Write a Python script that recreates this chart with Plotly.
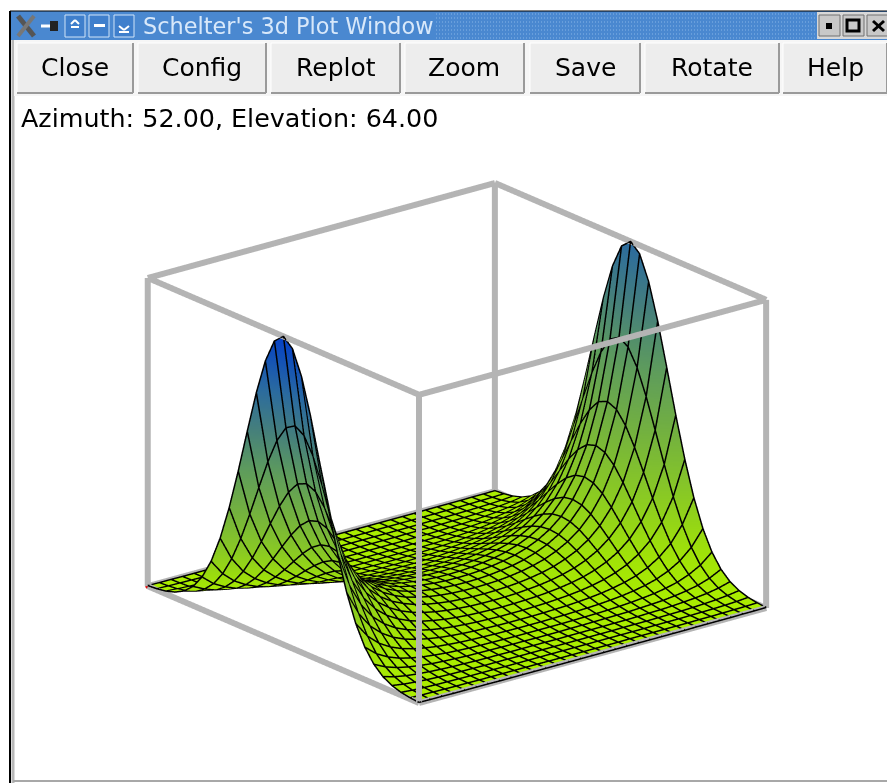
import numpy as np
import plotly.graph_objects as go

W, H = 887, 783

# Surface heights: one quadrant (u = 0..3 rows, v = 0..2 columns)
u_half = [0.0, 0.2, 0.4, 0.6, 0.8, 1.0, 1.2, 1.4, 1.6, 1.8, 2.0, 2.2, 2.4, 2.6, 2.8, 3.0]
v_half = [0.0, 0.1333, 0.2667, 0.4, 0.5333, 0.6667, 0.8, 0.9333, 1.0667, 1.2, 1.3333, 1.4667, 1.6, 1.7333, 1.8667, 2.0]
z_quadrant = [
    [1.00, 1.01, 1.05, 1.12, 1.22, 1.36, 1.56, 1.83, 2.20, 2.71, 3.43, 4.44, 5.90, 8.02, 11.19, 16.00],
    [0.97, 0.98, 1.02, 1.09, 1.18, 1.32, 1.52, 1.78, 2.14, 2.64, 3.34, 4.32, 5.74, 7.81, 10.89, 15.56],
    [0.90, 0.91, 0.94, 1.00, 1.09, 1.22, 1.39, 1.64, 1.97, 2.43, 3.07, 3.98, 5.28, 7.18, 10.02, 14.32],
    [0.78, 0.79, 0.82, 0.87, 0.95, 1.06, 1.21, 1.43, 1.71, 2.11, 2.67, 3.46, 4.59, 6.25, 8.72, 12.47],
    [0.64, 0.65, 0.67, 0.72, 0.78, 0.87, 1.00, 1.17, 1.41, 1.74, 2.20, 2.85, 3.78, 5.15, 7.18, 10.27],
    [0.50, 0.51, 0.53, 0.56, 0.61, 0.68, 0.78, 0.91, 1.10, 1.36, 1.71, 2.22, 2.95, 4.01, 5.60, 8.00],
    [0.37, 0.37, 0.39, 0.41, 0.45, 0.50, 0.57, 0.67, 0.81, 1.00, 1.26, 1.64, 2.17, 2.96, 4.13, 5.90],
    [0.26, 0.26, 0.27, 0.29, 0.31, 0.35, 0.40, 0.47, 0.57, 0.70, 0.88, 1.14, 1.52, 2.06, 2.88, 4.11],
    [0.17, 0.17, 0.18, 0.19, 0.21, 0.23, 0.26, 0.31, 0.37, 0.46, 0.58, 0.75, 1.00, 1.36, 1.90, 2.71],
    [0.11, 0.11, 0.11, 0.12, 0.13, 0.14, 0.16, 0.19, 0.23, 0.29, 0.36, 0.47, 0.62, 0.85, 1.18, 1.69],
    [0.06, 0.06, 0.07, 0.07, 0.08, 0.09, 0.10, 0.11, 0.14, 0.17, 0.21, 0.28, 0.37, 0.50, 0.70, 1.00],
    [0.03, 0.04, 0.04, 0.04, 0.04, 0.05, 0.05, 0.06, 0.08, 0.09, 0.12, 0.16, 0.21, 0.28, 0.39, 0.56],
    [0.02, 0.02, 0.02, 0.02, 0.02, 0.03, 0.03, 0.03, 0.04, 0.05, 0.06, 0.08, 0.11, 0.15, 0.21, 0.30],
    [0.01, 0.01, 0.01, 0.01, 0.01, 0.01, 0.01, 0.02, 0.02, 0.02, 0.03, 0.04, 0.05, 0.07, 0.10, 0.15],
    [0.00, 0.00, 0.00, 0.00, 0.01, 0.01, 0.01, 0.01, 0.01, 0.01, 0.02, 0.02, 0.03, 0.04, 0.05, 0.07],
    [0.00, 0.00, 0.00, 0.00, 0.00, 0.00, 0.00, 0.00, 0.00, 0.01, 0.01, 0.01, 0.01, 0.02, 0.02, 0.03],
]
# Right-hand peak is drawn teal, the left one full blue
tint_left, tint_right = 1.0, 0.80

button_labels = ["Close", "Config", "Replot", "Zoom", "Save", "Rotate", "Help"]
button_edges = [(17, 133), (138, 266), (271, 400), (405, 524), (530, 640), (645, 779), (783, 887)]
title_text = "Schelter's 3d Plot Window"
status_text = "Azimuth: 52.00, Elevation: 64.00"

colorscale = [
    [0.00, "#aaee00"], [0.08, "#a0e208"], [0.20, "#8bcb22"], [0.35, "#74b23e"],
    [0.50, "#5e9c5c"], [0.65, "#457f7c"], [0.80, "#2a6aa0"], [0.92, "#1250b8"], [1.00, "#0540c8"],
]
GRID_BLACK = "#000000"
BOX_GRAY = "#b4b4b4"

# Assemble the full grid
Zq = np.array(z_quadrant)
Zu = np.concatenate([Zq[:0:-1], Zq], axis=0)
Z = np.concatenate([Zu[:, :0:-1], Zu], axis=1)          # rows u, cols y (y = -2 left peak, +2 right peak)
u = np.array([-a for a in u_half[:0:-1]] + u_half)
y = np.array([-a for a in v_half[:0:-1]] + v_half)
tint = tint_left + (tint_right - tint_left) * (y + 2) / 4
C = Z / 16 * tint

fig = go.Figure()
fig.add_trace(go.Surface(
    x=u, y=y, z=Z.T, surfacecolor=C.T, cmin=0, cmax=1, colorscale=colorscale, showscale=False,
    lighting=dict(ambient=1, diffuse=0, specular=0, roughness=1, fresnel=0),
    hoverinfo="skip",
))

# Wire box, one trace per edge
lo = (-3, -2, 0)
hi = (3, 2, 16)
corners = [(a, b, c) for a in (lo[0], hi[0]) for b in (lo[1], hi[1]) for c in (lo[2], hi[2])]
for i, p in enumerate(corners):
    for q in corners[i + 1:]:
        if sum(p[k] != q[k] for k in range(3)) == 1:
            fig.add_trace(go.Scatter3d(x=[p[0], q[0]], y=[p[1], q[1]], z=[p[2], q[2]], mode="lines",
                                       line=dict(color=BOX_GRAY, width=12), hoverinfo="skip"))

# Mesh lines follow the same grid, nudged along the view direction so they sit on the surface
view = np.array([0.734, -0.585, 0.343])
nudge = 0.006 * view * np.array([4.69, 3.06, 16.6])
mx, my, mz = [], [], []
for i in range(len(u)):
    mx += [u[i] + nudge[0]] * len(y) + [None]
    my += list(y + nudge[1]) + [None]
    mz += list(Z[i] + nudge[2]) + [None]
for j in range(len(y)):
    mx += list(u + nudge[0]) + [None]
    my += [y[j] + nudge[1]] * len(u) + [None]
    mz += list(Z[:, j] + nudge[2]) + [None]
fig.add_trace(go.Scatter3d(x=mx, y=my, z=mz, mode="lines", line=dict(color=GRID_BLACK, width=3), hoverinfo="skip"))
fig.add_trace(go.Scatter3d(x=[-3], y=[-2], z=[0], mode="markers", marker=dict(color="#e01010", size=3), hoverinfo="skip"))


def px(x):
    return x / W


def py(yy):
    return 1 - yy / H


shapes = []
annotations = []


def rect(x0, y0, x1, y1, fill, line=None):
    shapes.append(dict(type="rect", xref="paper", yref="paper", x0=px(x0), x1=px(x1), y0=py(y0), y1=py(y1),
                       fillcolor=fill, line=dict(width=1 if line else 0, color=line or fill)))


def seg(x0, y0, x1, y1, color, width=1, dash=None):
    shapes.append(dict(type="line", xref="paper", yref="paper", x0=px(x0), x1=px(x1), y0=py(y0), y1=py(y1),
                       line=dict(color=color, width=width, dash=dash or "solid")))


def text(x, yy, s, size, color="#000000", anchor="center", family="DejaVu Sans"):
    annotations.append(dict(xref="paper", yref="paper", x=px(x), y=py(yy), text=s, showarrow=False,
                            xanchor=anchor, yanchor="middle", font=dict(family=family, size=size, color=color),
                            borderpad=0, borderwidth=0))


# Window frame and title bar
rect(10, 11, 887, 40, "#4a88d0")
seg(10, 11, 887, 11, "#000000", 1)
seg(10, 11, 10, 783, "#000000", 2)
seg(13, 40, 13, 783, "#b8b8b8", 3)
seg(13, 781, 887, 781, "#a8a8a8", 2)
for row in range(14, 39, 4):
    seg(436, row, 816, row, "#86b4e6", 1, "1px,2px")
rect(14, 40, 887, 96, "#f6f6f6")
rect(817, 12, 887, 39, "#d8d8d8")
for x0 in (819, 843, 867):
    rect(x0, 15, x0 + 21, 36, "#c8c8c8", "#707070")
rect(826, 23, 832, 29, "#000000")
shapes.append(dict(type="rect", xref="paper", yref="paper", x0=px(847), x1=px(859), y0=py(20), y1=py(31),
                   fillcolor="rgba(0,0,0,0)", line=dict(color="#000000", width=3)))
seg(873, 21, 884, 31, "#000000", 3)
seg(884, 21, 873, 31, "#000000", 3)

# Window-manager glyphs on the left of the title bar
seg(18, 16, 34, 36, "#555555", 5)
seg(34, 16, 18, 36, "#777777", 4)
seg(41, 26, 52, 26, "#ffffff", 3)
rect(50, 21, 58, 31, "#222222")
for x0, glyph in ((65, "up"), (89, "dash"), (114, "down")):
    rect(x0, 15, x0 + 20, 37, "#3f7fcc", "#d0e4f8")
rect(71, 26, 79, 28, "#ffffff")
seg(71, 24, 75, 20, "#ffffff", 2)
seg(79, 24, 75, 20, "#ffffff", 2)
rect(94, 24, 105, 27, "#ffffff")
rect(119, 31, 129, 33, "#ffffff")
seg(119, 26, 124, 30, "#ffffff", 2)
seg(129, 26, 124, 30, "#ffffff", 2)

# Buttons
for (x0, x1), label in zip(button_edges, button_labels):
    rect(x0, 43, x1, 93, "#ededed")
    seg(x0, 43, x1, 43, "#ffffff", 1)
    seg(x0, 43, x0, 93, "#ffffff", 1)
    seg(x0, 93, x1, 93, "#9a9a9a", 2)
    seg(x1, 43, x1, 93, "#9a9a9a", 2)
    text((x0 + x1) / 2, 67.5, label, 25)

text(143, 26, title_text, 22.4, "#d8e8fa", "left")
text(21, 118, status_text, 25.4, "#000000", "left")

eye = view * 2.5
cx_px, cy_px = 457.0, 442.5
half_w, half_h = 430.0, 340.0
pad = 1.05
scale = 1.28 * pad
fig.update_layout(
    width=W, height=H, margin=dict(l=0, r=0, t=0, b=0), paper_bgcolor="white", showlegend=False,
    shapes=shapes, annotations=annotations,
    scene=dict(
        domain=dict(x=[px(cx_px - half_w), px(cx_px + half_w)], y=[py(cy_px + half_h), py(cy_px - half_h)]),
        aspectmode="manual", aspectratio=dict(x=1.0 * scale, y=1.02 * scale, z=0.754 * scale),
        bgcolor="rgba(0,0,0,0)",
        camera=dict(projection=dict(type="orthographic"), up=dict(x=0, y=0, z=1), center=dict(x=0, y=0, z=0),
                    eye=dict(x=float(eye[0]), y=float(eye[1]), z=float(eye[2]))),
        xaxis=dict(visible=False, range=[-3 * pad, 3 * pad]),
        yaxis=dict(visible=False, range=[-2 * pad, 2 * pad]),
        zaxis=dict(visible=False, range=[8 - 8 * pad, 8 + 8 * pad]),
    ),
)
fig.write_html("out.html", config={"displayModeBar": False},
               post_script="document.body.style.margin='0';document.body.style.overflow='hidden';")
